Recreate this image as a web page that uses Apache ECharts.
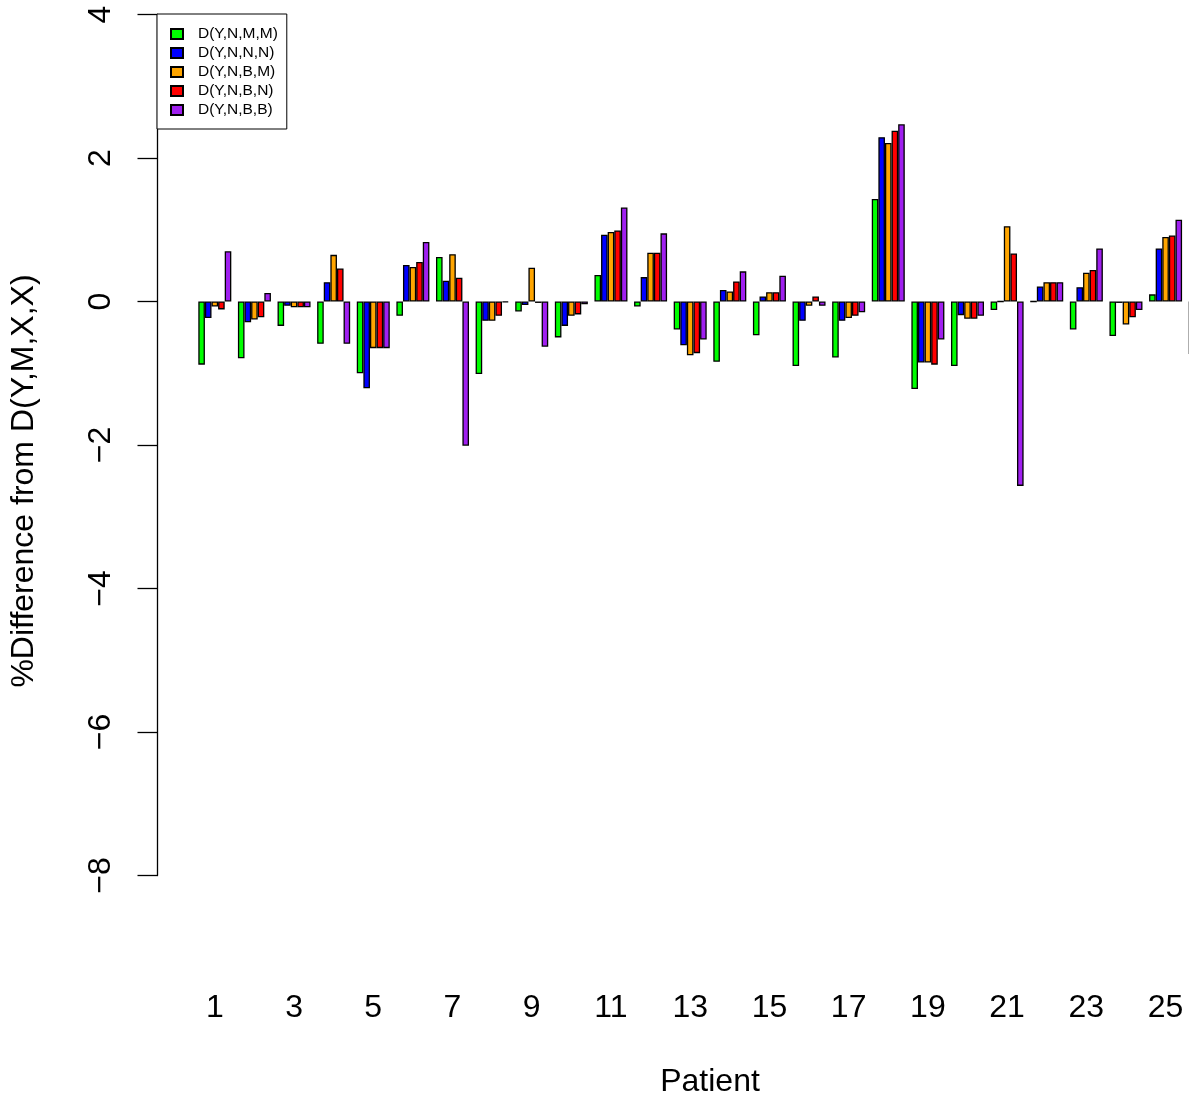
<!DOCTYPE html>
<html>
<head>
<meta charset="utf-8">
<script src="https://cdn.jsdelivr.net/npm/echarts@6/dist/echarts.min.js"></script>
<style>
html,body{margin:0;padding:0;background:#fff;overflow:hidden;width:1189px;height:1097px;}
#chart{width:1250px;height:1097px;}
</style>
</head>
<body>
<div id="chart"></div>
<script>
const patients = ['1','2','3','4','5','6','7','8','9','10','11','12','13','14','15','16','17','18','19','20','21','22','23','24','25','26'];
const seriesNames = ['D(Y,N,M,M)','D(Y,N,N,N)','D(Y,N,B,M)','D(Y,N,B,N)','D(Y,N,B,B)'];
const seriesColors = ['#00FF00','#0000FF','#FFA500','#FF0000','#A020F0'];
const dYNMM = [-0.88,-0.79,-0.34,-0.59,-1.00,-0.20,0.62,-1.01,-0.14,-0.50,0.37,-0.07,-0.39,-0.84,-0.47,-0.90,-0.78,1.43,-1.22,-0.90,-0.12,0.00,-0.39,-0.48,0.10,-0.73];
const dYNNN = [-0.23,-0.29,-0.06,0.27,-1.21,0.51,0.29,-0.27,-0.05,-0.34,0.93,0.34,-0.61,0.16,0.07,-0.27,-0.27,2.29,-0.85,-0.19,0.00,0.21,0.20,-0.02,0.74,null];
const dYNBM = [-0.07,-0.25,-0.08,0.65,-0.65,0.48,0.66,-0.27,0.47,-0.20,0.97,0.68,-0.75,0.14,0.13,-0.06,-0.23,2.21,-0.85,-0.24,1.05,0.27,0.40,-0.32,0.90,null];
const dYNBN = [-0.11,-0.22,-0.08,0.46,-0.65,0.55,0.33,-0.20,-0.02,-0.18,0.99,0.68,-0.72,0.28,0.13,0.07,-0.20,2.38,-0.88,-0.24,0.67,0.27,0.44,-0.22,0.92,null];
const dYNBB = [0.70,0.12,-0.08,-0.59,-0.65,0.83,-2.01,-0.01,-0.63,-0.04,1.31,0.95,-0.53,0.42,0.36,-0.06,-0.15,2.47,-0.53,-0.20,-2.57,0.27,0.74,-0.12,1.14,null];
const yTicks = {min: -8, max: 4, interval: 2};
const xTitle = 'Patient';
const yTitle = '%Difference from D(Y,M,X,X)';

const allData = [dYNMM, dYNNN, dYNBM, dYNBN, dYNBB];
const FONT = 'Liberation Sans, Arial, Helvetica, sans-serif';

const chart = echarts.init(document.getElementById('chart'), null, {renderer: 'canvas', width: 1250, height: 1097});
const option = {
  backgroundColor: '#ffffff',
  animation: false,
  grid: {left: 195, top: 14.5, width: 1030, height: 861, containLabel: false, outerBoundsMode: 'none'},
  legend: {
    orient: 'vertical',
    left: 157,
    top: 14,
    padding: [12, 9, 11, 13],
    borderColor: '#000',
    borderWidth: 1,
    backgroundColor: '#fff',
    itemWidth: 12,
    itemHeight: 10,
    itemGap: 3,
    icon: 'rect',
    textStyle: {fontFamily: FONT, fontSize: 15.5, color: '#000', lineHeight: 15, padding: [0, 0, 0, 10]},
    data: seriesNames
  },
  xAxis: {
    type: 'category',
    data: patients,
    axisLine: {show: false, onZero: false},
    axisTick: {show: false},
    axisLabel: {interval: 1, margin: 117, fontFamily: FONT, fontSize: 32, color: '#000'},
    name: xTitle,
    nameLocation: 'middle',
    nameGap: 191,
    nameTextStyle: {fontFamily: FONT, fontSize: 32, color: '#000'}
  },
  yAxis: {
    type: 'value',
    min: yTicks.min,
    max: yTicks.max,
    interval: yTicks.interval,
    offset: 37.5,
    axisLine: {show: true, lineStyle: {color: '#000', width: 1.3}},
    axisTick: {show: true, length: 20, lineStyle: {color: '#000', width: 1.3}},
    splitLine: {show: false},
    axisLabel: {
      rotate: 90, margin: 40, fontFamily: FONT, fontSize: 32, color: '#000',
      formatter: v => String(v).replace('-', '\u2212')
    }
  },
  graphic: [{
    type: 'text',
    x: 24, y: 481,
    rotation: Math.PI / 2,
    style: {text: yTitle, font: '32px ' + FONT, fill: '#000', textAlign: 'center', textVerticalAlign: 'middle'}
  }],
  series: seriesNames.map((n, i) => ({
    name: n,
    type: 'bar',
    data: allData[i],
    barGap: '0%',
    barCategoryGap: '16.667%',
    itemStyle: {color: seriesColors[i], borderColor: '#000', borderWidth: 1.3}
  }))
};
chart.setOption(option);
</script>
</body>
</html>
